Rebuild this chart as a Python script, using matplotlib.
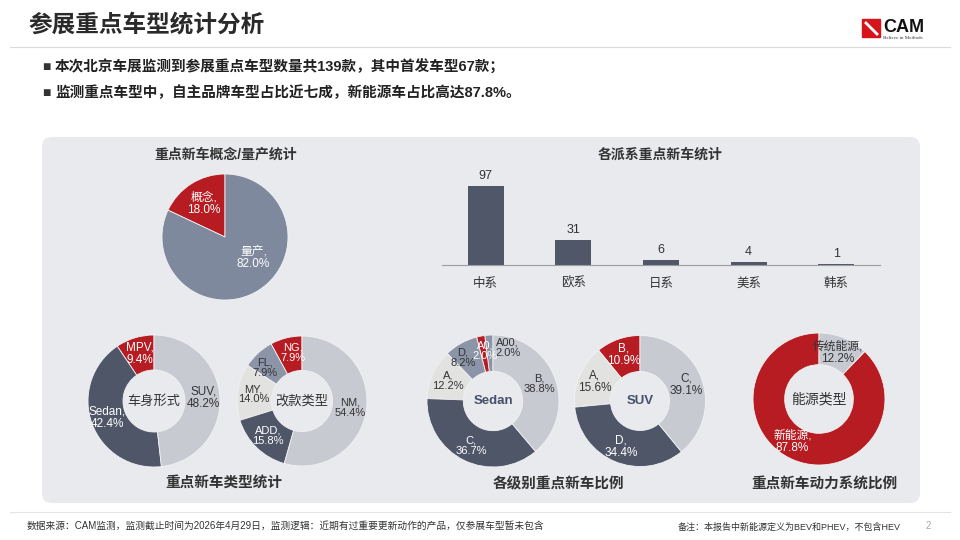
import matplotlib
matplotlib.use("Agg")
import matplotlib.pyplot as plt
from matplotlib.patches import FancyBboxPatch, Rectangle
import numpy as np

plt.rcParams['font.family'] = ['Liberation Sans', 'Noto Sans CJK SC', 'DejaVu Sans']

# ---- data ----
concept_labels = ['概念', '量产']
concept_vals = [18.0, 82.0]

region_cats = ['中系', '欧系', '日系', '美系', '韩系']
region_counts = [97, 31, 6, 4, 1]

body_labels = ['MPV', 'Sedan', 'SUV']
body_vals = [9.4, 42.4, 48.2]

facelift_labels = ['NG', 'FL', 'MY', 'ADD', 'NM']
facelift_vals = [7.9, 7.9, 14.0, 15.8, 54.4]

sedan_labels = ['A00', 'A0', 'D', 'A', 'C', 'B']
sedan_vals = [2.0, 2.0, 8.2, 12.2, 36.7, 38.8]

suv_labels = ['B', 'A', 'D', 'C']
suv_vals = [10.9, 15.6, 34.4, 39.1]

energy_labels = ['新能源', '传统能源']
energy_vals = [87.8, 12.2]

# ---- colours ----
DARK = '#4E5668'
LIGHT = '#C7CAD1'
PALE = '#E2E2E0'
BLUEG = '#8C95A7'
RED = '#B71C22'
PIEGRAY = '#7E899D'
PANEL = '#E9EAEE'
TXT = '#333333'

W, H = 960, 540
fig = plt.figure(figsize=(9.6, 5.4), dpi=100)
fig.patch.set_facecolor('white')


def box(x0, y0, w, h):
    return [x0 / W, 1 - (y0 + h) / H, w / W, h / H]


# background layer in pixel coordinates
bg = fig.add_axes([0, 0, 1, 1])
bg.set_xlim(0, W)
bg.set_ylim(H, 0)
bg.axis('off')

bg.text(28, 25, '参展重点车型统计分析', fontsize=17, fontweight='bold', color='#2A2A2A',
        va='center', ha='left')
bg.plot([10, 950], [47, 47], color='#DADADA', lw=0.8)

# logo
bg.add_patch(Rectangle((862, 19), 18, 18, color='#D7141A'))
bg.plot([866, 877], [23, 34], color='white', lw=2)
bg.text(883, 27, 'CAM', fontsize=13, fontweight='bold', color='#111111', va='center', ha='left')
bg.text(883, 38, 'Believe in Methods', fontsize=3.6, color='#333333', va='center', ha='left',
        family='Liberation Serif')

bullets = ['本次北京车展监测到参展重点车型数量共139款，其中首发车型67款；',
           '监测重点车型中，自主品牌车型占比近七成，新能源车占比高达87.8%。']
for i, b in enumerate(bullets):
    y = 67 + i * 26
    bg.text(42, y, '■', fontsize=10, color='#333333', va='center', ha='left')
    bg.text(55, y, b, fontsize=10.5, fontweight='bold', color='#222222', va='center', ha='left')

bg.add_patch(FancyBboxPatch((42, 137), 878, 366, boxstyle='round,pad=0,rounding_size=10',
                            facecolor=PANEL, edgecolor='none'))

bg.text(226, 155, '重点新车概念/量产统计', fontsize=10, fontweight='bold', color=TXT, ha='center', va='center')
bg.text(660, 155, '各派系重点新车统计', fontsize=10, fontweight='bold', color=TXT, ha='center', va='center')
bg.text(224, 483, '重点新车类型统计', fontsize=10.5, fontweight='bold', color=TXT, ha='center', va='center')
bg.text(558, 484, '各级别重点新车比例', fontsize=10.5, fontweight='bold', color=TXT, ha='center', va='center')
bg.text(824, 484, '重点新车动力系统比例', fontsize=10.5, fontweight='bold', color=TXT, ha='center', va='center')

bg.plot([10, 950], [512, 512], color='#E3E3E3', lw=0.8)
bg.text(27, 526, '数据来源：CAM监测，监测截止时间为2026年4月29日，监测逻辑：近期有过重要更新动作的产品，仅参展车型暂未包含',
        fontsize=7, color=TXT, va='center', ha='left')
bg.text(678, 527, '备注：本报告中新能源定义为BEV和PHEV，不包含HEV', fontsize=6.5, color=TXT,
        va='center', ha='left')
bg.text(928, 526, '2', fontsize=7, color='#A8A8A8', va='center', ha='center')

WHITE_ON = {RED, DARK, PIEGRAY}


def ring(cx, cy, r, labels, vals, colors, center=None, center_kw=None, width=None,
         label_r=0.75, shifts=None, fs=8.5):
    ax = fig.add_axes(box(cx - r, cy - r, 2 * r, 2 * r))
    wp = dict(edgecolor='#F2F2F4', linewidth=0.6)
    if width is not None:
        wp['width'] = width
    wedges, _ = ax.pie(vals, colors=colors, startangle=90, counterclock=True,
                       radius=1, wedgeprops=wp)
    ax.set_xlim(-1, 1)
    ax.set_ylim(-1, 1)
    ax.set_aspect('equal')
    shifts = shifts or {}
    for w, lab, val, col in zip(wedges, labels, vals, colors):
        ang = np.deg2rad((w.theta1 + w.theta2) / 2)
        x, y = label_r * np.cos(ang), label_r * np.sin(ang)
        dx, dy = shifts.get(lab, (0, 0))
        ax.text(x + dx, y + dy, f'{lab},\n{val:.1f}%', ha='center', va='center', fontsize=fs,
                color='white' if col in WHITE_ON else TXT, linespacing=1.05)
    if center:
        ax.text(0, 0, center, ha='center', va='center', **(center_kw or {}))
    return ax


ckw = dict(fontsize=9.5, color=TXT)
skw = dict(fontsize=9.5, color='#46506A', fontweight='bold')

# concept / mass production pie
ring(225, 237, 63, concept_labels, concept_vals, [RED, PIEGRAY], label_r=0.62,
     shifts={'量产': (0.12, 0.2)})

# body style donut
ring(154, 401, 66, body_labels, body_vals, [RED, DARK, LIGHT], center='车身形式',
     center_kw=ckw, width=0.53)
# facelift type donut
ring(302, 401, 65, facelift_labels, facelift_vals, [RED, BLUEG, PALE, DARK, LIGHT],
     center='改款类型', center_kw=ckw, width=0.53, fs=8,
     shifts={'NG': (0.04, 0.02), 'FL': (-0.06, -0.04)})
# sedan class donut
ring(493, 401, 66, sedan_labels, sedan_vals, [BLUEG, RED, BLUEG, PALE, DARK, LIGHT],
     center='Sedan', center_kw=skw, width=0.55, fs=8,
     shifts={'A00': (0.27, 0.06), 'A0': (0.02, 0.02), 'D': (-0.09, 0.0)})
# suv class donut
ring(640, 401, 65.5, suv_labels, suv_vals, [RED, PALE, DARK, LIGHT],
     center='SUV', center_kw=skw, width=0.55)
# energy donut
ring(819, 399, 66, energy_labels, energy_vals, [RED, LIGHT], center='能源类型',
     center_kw=dict(fontsize=10, color=TXT), width=0.48, shifts={'新能源': (-0.12, 0.05)})

# region bar chart
axb = fig.add_axes(box(442, 170, 438, 95))
axb.set_facecolor('none')
x = np.arange(len(region_cats))
axb.bar(x, region_counts, width=0.41, color='#4F5769')
for xi, v in zip(x, region_counts):
    axb.annotate(str(v), (xi, v), xytext=(0, 3), textcoords='offset points',
                 ha='center', va='bottom', fontsize=9, color=TXT)
axb.set_xlim(-0.5, len(region_cats) - 0.5)
axb.set_ylim(0, 116.6)
axb.set_xticks(x)
axb.set_xticklabels(region_cats, fontsize=9, color=TXT)
axb.set_yticks([])
axb.tick_params(axis='x', length=0, pad=9)
for s in ['top', 'left', 'right']:
    axb.spines[s].set_visible(False)
axb.spines['bottom'].set_color('#9C9C9C')

fig.savefig('out.png', dpi=100, facecolor='white')
